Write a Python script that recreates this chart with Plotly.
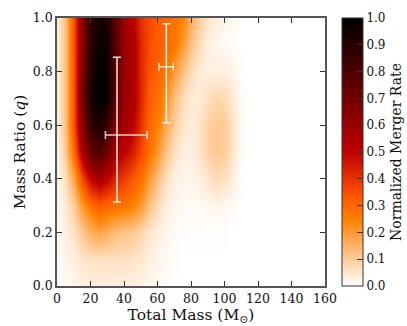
import plotly.graph_objects as go

# grid: total mass (cols) x mass ratio (rows)
mass = list(range(0, 165, 5))
q = [0.0, 0.1, 0.2, 0.3, 0.4, 0.5, 0.6, 0.7, 0.8, 0.9, 1.0]

#        0     5     10    15    20    25    30    35    40    45    50    55    60    65    70    75    80    85    90    95    100   105   110 115 120 125 130 135 140 145 150 155 160
q00 = [0.0, 0.01, 0.02, 0.03, 0.03, 0.03, 0.03, 0.03, 0.03, 0.03, 0.025, 0.015, 0.01, 0.005, 0, 0, 0, 0, 0, 0, 0, 0, 0, 0, 0, 0, 0, 0, 0, 0, 0, 0, 0]
q01 = [0.005, 0.02, 0.03, 0.05, 0.06, 0.06, 0.06, 0.06, 0.06, 0.055, 0.045, 0.03, 0.02, 0.01, 0.005, 0, 0, 0, 0, 0, 0, 0, 0, 0, 0, 0, 0, 0, 0, 0, 0, 0, 0]
q02 = [0.01, 0.03, 0.06, 0.11, 0.16, 0.18, 0.16, 0.13, 0.12, 0.11, 0.08, 0.05, 0.03, 0.02, 0.01, 0.005, 0.005, 0.005, 0.005, 0.005, 0.005, 0, 0, 0, 0, 0, 0, 0, 0, 0, 0, 0, 0]
q03 = [0.01, 0.04, 0.1, 0.2, 0.28, 0.32, 0.3, 0.28, 0.27, 0.25, 0.2, 0.12, 0.07, 0.03, 0.02, 0.01, 0.01, 0.01, 0.015, 0.02, 0.015, 0.01, 0, 0, 0, 0, 0, 0, 0, 0, 0, 0, 0]
q04 = [0.02, 0.06, 0.18, 0.35, 0.5, 0.55, 0.5, 0.42, 0.38, 0.33, 0.28, 0.2, 0.12, 0.06, 0.03, 0.02, 0.02, 0.03, 0.05, 0.07, 0.06, 0.03, 0.005, 0, 0, 0, 0, 0, 0, 0, 0, 0, 0]
q05 = [0.02, 0.1, 0.3, 0.55, 0.75, 0.8, 0.7, 0.55, 0.5, 0.45, 0.36, 0.28, 0.2, 0.12, 0.06, 0.03, 0.03, 0.05, 0.09, 0.11, 0.1, 0.05, 0.01, 0, 0, 0, 0, 0, 0, 0, 0, 0, 0]
q06 = [0.03, 0.12, 0.35, 0.65, 0.88, 0.93, 0.85, 0.65, 0.58, 0.52, 0.4, 0.3, 0.25, 0.17, 0.1, 0.05, 0.04, 0.05, 0.09, 0.11, 0.1, 0.05, 0.01, 0, 0, 0, 0, 0, 0, 0, 0, 0, 0]
q07 = [0.03, 0.12, 0.35, 0.7, 0.95, 1.0, 0.97, 0.72, 0.6, 0.55, 0.42, 0.32, 0.28, 0.22, 0.13, 0.07, 0.04, 0.04, 0.06, 0.08, 0.07, 0.04, 0.01, 0, 0, 0, 0, 0, 0, 0, 0, 0, 0]
q08 = [0.03, 0.12, 0.35, 0.68, 0.92, 1.0, 0.97, 0.75, 0.6, 0.55, 0.42, 0.34, 0.3, 0.27, 0.2, 0.12, 0.07, 0.04, 0.03, 0.03, 0.03, 0.02, 0.005, 0, 0, 0, 0, 0, 0, 0, 0, 0, 0]
q09 = [0.03, 0.12, 0.35, 0.65, 0.9, 0.98, 0.95, 0.75, 0.6, 0.55, 0.42, 0.35, 0.32, 0.3, 0.27, 0.2, 0.12, 0.07, 0.03, 0.02, 0.01, 0.005, 0, 0, 0, 0, 0, 0, 0, 0, 0, 0, 0]
q10 = [0.03, 0.12, 0.35, 0.65, 0.88, 0.95, 0.93, 0.75, 0.58, 0.52, 0.4, 0.36, 0.32, 0.3, 0.28, 0.24, 0.16, 0.1, 0.05, 0.03, 0.02, 0.01, 0, 0, 0, 0, 0, 0, 0, 0, 0, 0, 0]
rate = [q00, q01, q02, q03, q04, q05, q06, q07, q08, q09, q10]

# measured events with error bars
ev_mass = [35.8, 65.3]
ev_mass_lo = [6.9, 4.4]
ev_mass_hi = [18.1, 4.1]
ev_q = [0.563, 0.818]
ev_q_lo = [0.25, 0.209]
ev_q_hi = [0.291, 0.161]

# matplotlib gist_heat_r
heat_r = [[0.0, "rgb(255,255,255)"], [0.25, "rgb(255,128,0)"], [1 / 3, "rgb(255,85,0)"],
          [0.5, "rgb(191,0,0)"], [1.0, "rgb(0,0,0)"]]

font = "DejaVu Serif"
fig = go.Figure()
fig.add_trace(go.Heatmap(
    x=mass, y=q, z=rate, zmin=0, zmax=1, zsmooth="best", colorscale=heat_r,
    colorbar=dict(x=1.063, xanchor="left", xpad=0, ypad=0, y=0.5, len=1, thickness=21,
                  outlinecolor="#333", outlinewidth=1, ticks="inside", ticklen=6, tickcolor="#333",
                  tickvals=[i / 10 for i in range(11)], tickformat=".1f",
                  tickfont=dict(family=font, size=12, color="#111"),
                  title=dict(text="Normalized Merger Rate", side="right",
                             font=dict(family=font, size=14, color="#111")))))
fig.add_trace(go.Scatter(
    x=ev_mass, y=ev_q, mode="markers", marker=dict(size=1, color="rgba(0,0,0,0)"),
    error_x=dict(type="data", symmetric=False, array=ev_mass_hi, arrayminus=ev_mass_lo,
                 color="rgba(255,255,255,0.8)", thickness=1.5, width=4),
    error_y=dict(type="data", symmetric=False, array=ev_q_hi, arrayminus=ev_q_lo,
                 color="rgba(255,255,255,0.9)", thickness=1.5, width=4),
    showlegend=False, hoverinfo="skip"))

axis = dict(showline=True, linecolor="#555", linewidth=1.5, mirror="allticks", ticks="inside",
            ticklen=5, tickcolor="#333", showgrid=False, zeroline=False, automargin=False,
            tickfont=dict(family=font, size=12.5, color="#111"))
fig.update_xaxes(axis, range=[0, 160], tickvals=list(range(0, 161, 20)),
                 title=dict(text="Total Mass (M<sub>⊙</sub>)", font=dict(family=font, size=15.5, color="#111"),
                            standoff=1))
fig.update_yaxes(axis, range=[0, 1], tickvals=[0, 0.2, 0.4, 0.6, 0.8, 1.0], tickformat=".1f",
                 title=dict(text="Mass Ratio (<i>q</i>)", font=dict(family=font, size=15.5, color="#111"),
                            standoff=3))
fig.update_layout(width=407, height=326, margin=dict(l=57, r=82, t=18, b=40, autoexpand=False),
                  plot_bgcolor="white", paper_bgcolor="white")
# drop the browser's default body margin so the figure sits at the window's corner
fig.write_html("out.html", config={"displayModeBar": False},
               post_script="document.body.style.margin='0';")
